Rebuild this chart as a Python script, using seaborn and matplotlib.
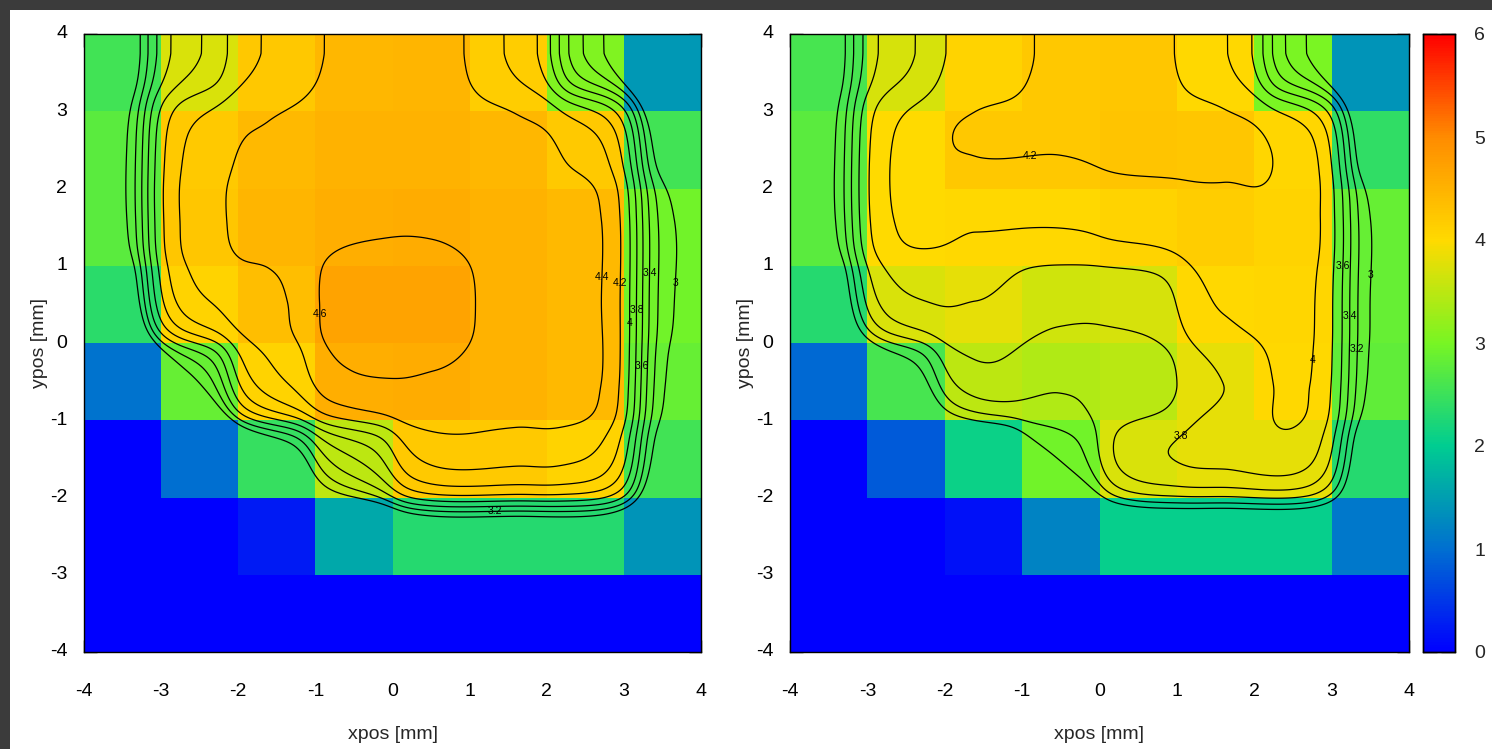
import numpy as np
import pandas as pd
import matplotlib
matplotlib.use("Agg")
import matplotlib.pyplot as plt
import seaborn as sns
from matplotlib.colors import LinearSegmentedColormap
from matplotlib.patches import Rectangle

# ---------------- data (cell values, rows from y=+3.5 down to y=-3.5) ----------------
x_edges = [-4, -3, -2, -1, 0, 1, 2, 3, 4]
y_edges = [4, 3, 2, 1, 0, -1, -2, -3, -4]
x_centers = [-3.5, -2.5, -1.5, -0.5, 0.5, 1.5, 2.5, 3.5]
y_centers = [3.5, 2.5, 1.5, 0.5, -0.5, -1.5, -2.5, -3.5]

left_values = [
    [2.55, 3.72, 4.22, 4.44, 4.46, 4.15, 3.05, 1.45],
    [2.75, 4.20, 4.42, 4.52, 4.52, 4.45, 4.20, 2.55],
    [2.75, 4.25, 4.47, 4.57, 4.58, 4.50, 4.42, 2.95],
    [2.35, 4.10, 4.35, 4.70, 4.70, 4.50, 4.42, 2.95],
    [1.05, 2.85, 4.10, 4.56, 4.58, 4.50, 4.42, 2.85],
    [0.00, 1.00, 2.45, 3.50, 4.20, 4.20, 4.10, 2.55],
    [0.00, 0.00, 0.25, 1.60, 2.30, 2.30, 2.30, 1.40],
    [0.00, 0.00, 0.00, 0.00, 0.00, 0.00, 0.00, 0.00],
]
right_values = [
    [2.60, 3.70, 4.08, 4.22, 4.25, 4.02, 3.00, 1.40],
    [2.75, 4.00, 4.22, 4.22, 4.28, 4.25, 4.05, 2.40],
    [2.75, 4.00, 4.02, 4.02, 4.08, 4.15, 4.10, 2.85],
    [2.30, 3.72, 3.80, 3.65, 3.68, 4.02, 4.05, 2.85],
    [0.95, 2.60, 3.50, 3.42, 3.48, 3.80, 4.02, 2.80],
    [0.00, 0.80, 2.10, 2.95, 3.72, 3.82, 3.82, 2.30],
    [0.00, 0.00, 0.15, 1.20, 2.05, 2.05, 2.05, 1.10],
    [0.00, 0.00, 0.00, 0.00, 0.00, 0.00, 0.00, 0.00],
]
contour_levels = [3.0, 3.2, 3.4, 3.6, 3.8, 4.0, 4.2, 4.4, 4.6]
cbar_ticks = [0, 1, 2, 3, 4, 5, 6]

# ---------------- style ----------------
sns.set_style("white")
plt.rcParams["font.family"] = ["Liberation Sans", "DejaVu Sans"]

palette = LinearSegmentedColormap.from_list(
    "gp",
    [(0 / 6, (0 / 255, 0 / 255, 255 / 255)),
     (1 / 6, (0 / 255, 112 / 255, 208 / 255)),
     (2 / 6, (0 / 255, 205 / 255, 145 / 255)),
     (3 / 6, (120 / 255, 245 / 255, 35 / 255)),
     (4 / 6, (255 / 255, 218 / 255, 0 / 255)),
     (5 / 6, (255 / 255, 140 / 255, 0 / 255)),
     (6 / 6, (255 / 255, 0 / 255, 0 / 255))])

W, H = 1492, 749
fig = plt.figure(figsize=(W / 100, H / 100), dpi=100)
fig.patch.set_facecolor("#3b3b3b")
fig.add_artist(Rectangle((10 / W, 0), (W - 10) / W, (H - 10) / H,
                         transform=fig.transFigure, facecolor="white",
                         edgecolor="none", zorder=-5))


def fpos(x0, x1, y0, y1):
    return [x0 / W, (H - y1) / H, (x1 - x0) / W, (y1 - y0) / H]


ax_l = fig.add_axes(fpos(84, 701, 34, 652))
ax_r = fig.add_axes(fpos(790, 1409, 34, 652))
cax = fig.add_axes(fpos(1423, 1455, 34, 652))


def cubic_weights(s, m):
    """Catmull-Rom interpolation weights for fractional indices s on m nodes."""
    s = np.clip(s, 0, m - 1)
    i = np.minimum(np.floor(s).astype(int), m - 2)
    t = s - i
    w = np.stack([(-t ** 3 + 2 * t ** 2 - t) / 2,
                  (3 * t ** 3 - 5 * t ** 2 + 2) / 2,
                  (-3 * t ** 3 + 4 * t ** 2 + t) / 2,
                  (t ** 3 - t ** 2) / 2], axis=1)
    M = np.zeros((len(s), m))
    for k in range(4):
        idx = np.clip(i - 1 + k, 0, m - 1)
        np.add.at(M, (np.arange(len(s)), idx), w[:, k])
    return M


def smooth_field(values, stretch=1.07, sigma=0.34, mix=0.5, n=321):
    """Gridding of the cell values: blend of bicubic and Gaussian-kernel gridding."""
    v = np.asarray(values, dtype=float)
    g = np.linspace(-4, 4, n)
    Mx = cubic_weights(g / stretch + 3.5, v.shape[1])
    My = cubic_weights(3.5 - g / stretch, v.shape[0])
    Zc = My @ v @ Mx.T
    GX, GY = np.meshgrid(g, g)
    cx, cy = np.meshgrid(np.array(x_centers) * stretch, np.array(y_centers) * stretch)
    num = np.zeros_like(GX)
    den = np.zeros_like(GX)
    for i in range(v.shape[0]):
        for j in range(v.shape[1]):
            w = np.exp(-((GX - cx[i, j]) ** 2 + (GY - cy[i, j]) ** 2) / (2 * sigma ** 2))
            num += w * v[i, j]
            den += w
    Zg = num / den
    return GX, GY, mix * Zc + (1 - mix) * Zg


all_labels = []


def draw(ax, values, show_cbar):
    df = pd.DataFrame(values, index=y_centers, columns=x_centers)
    sns.heatmap(df, ax=ax, cmap=palette, vmin=0, vmax=6,
                cbar=show_cbar, cbar_ax=cax if show_cbar else None,
                square=False, linewidths=0)
    GX, GY, Z = smooth_field(values)
    # heatmap index coordinates: column = x + 4, row = 4 - y
    cs = ax.contour(GX + 4, 4 - GY, Z, levels=contour_levels,
                    colors="black", linewidths=0.9)
    labels = ax.clabel(cs, inline=False, fontsize=7.5, fmt="%g", colors="black")
    for t in labels:
        t.set_rotation(0)
    all_labels.append(list(labels))
    ax.set_xlim(0, 8)
    ax.set_ylim(8, 0)
    ax.set_xticks(range(9))
    ax.set_xticklabels([str(v) for v in x_edges], rotation=0)
    ax.set_yticks(range(9))
    ax.set_yticklabels([str(v) for v in y_edges], rotation=0)
    for s in ax.spines.values():
        s.set_visible(True)
        s.set_color("black")
        s.set_linewidth(1.0)
    ax.tick_params(axis="both", direction="in", length=9, width=1,
                   top=True, right=True, bottom=True, left=True,
                   labelsize=14, colors="black")
    ax.tick_params(axis="x", pad=22)
    ax.tick_params(axis="y", pad=12)
    ax.set_xlabel("xpos [mm]", fontsize=14, labelpad=19)
    ax.set_ylabel("ypos [mm]", fontsize=14, labelpad=1)


draw(ax_l, left_values, False)
draw(ax_r, right_values, True)

cax.set_yticks(cbar_ticks)
cax.set_yticklabels([str(t) for t in cbar_ticks])
cax.tick_params(axis="y", direction="in", length=10, width=1, left=True,
                right=True, labelsize=14, pad=14)
for s in cax.spines.values():
    s.set_visible(True)
    s.set_color("black")
    s.set_linewidth(1.0)
cb = ax_r.collections[0].colorbar
cb.outline.set_visible(True)
cb.outline.set_edgecolor("black")
cb.outline.set_linewidth(1.0)

# nudge contour labels that collide with one another
fig.canvas.draw()
renderer = fig.canvas.get_renderer()
for labels in all_labels:
    placed = []
    for t in labels:
        bb = t.get_window_extent(renderer).expanded(1.1, 1.2)
        tries = 0
        while any(bb.overlaps(p) for p in placed) and tries < 6:
            x, y = t.get_position()
            t.set_position((x, y + 0.09))
            bb = t.get_window_extent(renderer).expanded(1.1, 1.2)
            tries += 1
        placed.append(bb)

fig.savefig("out.png", dpi=100, facecolor=fig.get_facecolor())
